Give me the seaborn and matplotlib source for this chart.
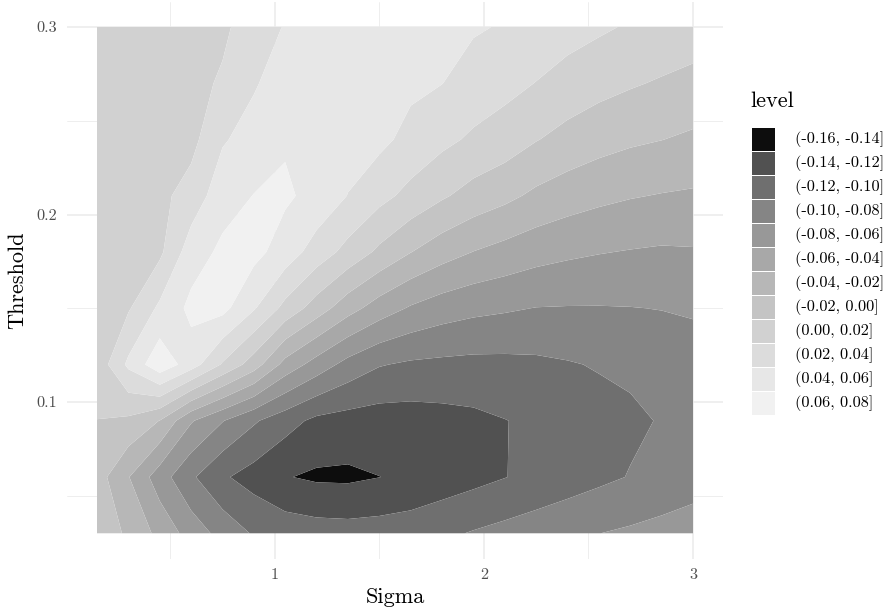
import numpy as np
import pandas as pd
import matplotlib
matplotlib.use("Agg")
import matplotlib.pyplot as plt
import seaborn as sns
from matplotlib.patches import Rectangle

# ---- data ----
sigma = [0.15, 0.30, 0.45, 0.60, 0.75, 0.90, 1.05, 1.20, 1.35, 1.50,
         1.65, 1.80, 1.95, 2.10, 2.25, 2.40, 2.55, 2.70, 2.85, 3.00]
threshold = [0.03, 0.06, 0.09, 0.12, 0.15, 0.18, 0.21, 0.24, 0.27, 0.30]

z_t03 = [-0.006, -0.0236, -0.0458, -0.0685, -0.087, -0.102, -0.108, -0.111, -0.112, -0.111,
         -0.109, -0.104, -0.0985, -0.0939, -0.0893, -0.0847, -0.0802, -0.077, -0.0735, -0.070]
z_t06 = [-0.011, -0.039, -0.0705, -0.0968, -0.1174, -0.128, -0.139, -0.143, -0.1435, -0.1402,
         -0.136, -0.131, -0.126, -0.1205, -0.115, -0.1097, -0.1044, -0.0991, -0.094, -0.089]
z_t09 = [-0.0002, -0.004, -0.0205, -0.058, -0.079, -0.0975, -0.112, -0.1248, -0.128, -0.1295,
         -0.129, -0.127, -0.1245, -0.1205, -0.1165, -0.112, -0.1077, -0.1034, -0.0988, -0.094]
z_t12 = [0.007, 0.044, 0.074, 0.050, 0.018, -0.010, -0.047, -0.0684, -0.0869, -0.0987,
         -0.103, -0.1045, -0.1055, -0.1052, -0.104, -0.1015, -0.0985, -0.0965, -0.092, -0.087]
z_t15 = [0.012, 0.018, 0.044, 0.065, 0.066, 0.042, 0.014, -0.0095, -0.0321, -0.0495,
         -0.0622, -0.0702, -0.075, -0.0777, -0.0805, -0.081, -0.081, -0.0805, -0.0795, -0.0783]
z_t18 = [0.013, 0.0145, 0.016, 0.0507, 0.064, 0.066, 0.051, 0.0311, 0.0136, -0.0041,
         -0.0195, -0.0316, -0.0404, -0.0467, -0.0525, -0.0564, -0.0591, -0.061, -0.0625, -0.0617]
z_t21 = [0.014, 0.0145, 0.015, 0.028, 0.052, 0.0605, 0.063, 0.054, 0.0395, 0.0262,
         0.0141, 0.0026, -0.0075, -0.015, -0.0241, -0.0304, -0.0352, -0.0387, -0.041, -0.0426]
z_t24 = [0.014, 0.0145, 0.015, 0.014, 0.038, 0.048, 0.058, 0.053, 0.048, 0.045,
         0.034, 0.0249, 0.0168, 0.0105, 0.0009, -0.0065, -0.0124, -0.0168, -0.0197, -0.0232]
z_t27 = [0.014, 0.0145, 0.015, 0.015, 0.022, 0.038, 0.050, 0.049, 0.049, 0.048,
         0.044, 0.0403, 0.0318, 0.0261, 0.0195, 0.0121, 0.0065, 0.002, -0.002, -0.006]
z_t30 = [0.014, 0.0145, 0.015, 0.016, 0.017, 0.028, 0.0415, 0.045, 0.047, 0.048,
         0.047, 0.045, 0.042, 0.0385, 0.0335, 0.028, 0.023, 0.018, 0.0145, 0.011]

level_breaks = [-0.16, -0.14, -0.12, -0.10, -0.08, -0.06, -0.04, -0.02,
                0.00, 0.02, 0.04, 0.06, 0.08]
level_labels = ["(-0.16, -0.14]", "(-0.14, -0.12]", "(-0.12, -0.10]", "(-0.10, -0.08]",
                "(-0.08, -0.06]", "(-0.06, -0.04]", "(-0.04, -0.02]", "(-0.02, 0.00]",
                "(0.00, 0.02]", "(0.02, 0.04]", "(0.04, 0.06]", "(0.06, 0.08]"]
x_ticks = [1, 2, 3]
y_ticks = [0.1, 0.2, 0.3]
y_tick_labels = ["0.1", "0.2", "0.3"]

grid = pd.DataFrame([z_t03, z_t06, z_t09, z_t12, z_t15, z_t18, z_t21, z_t24, z_t27, z_t30],
                    index=threshold, columns=sigma)

# ---- style ----
sns.set_theme(style="white")
plt.rcParams['font.family'] = ['cmr10', 'DejaVu Serif']
plt.rcParams['mathtext.fontset'] = 'cm'
plt.rcParams['axes.formatter.use_mathtext'] = True
plt.rcParams['axes.unicode_minus'] = False

fills = ['#0d0d0d', '#515151', '#6f6f6f', '#858585', '#989898', '#a8a8a8',
         '#b7b7b7', '#c4c4c4', '#d1d1d1', '#dcdcdc', '#e7e7e7', '#f1f1f1']

W, H = 888, 610
fig = plt.figure(figsize=(W / 100, H / 100), dpi=100)
ax = fig.add_axes([67.2 / W, 1 - 558.6 / H, (722.8 - 67.2) / W, (558.6 - 1.7) / H])

ax.contourf(grid.columns.values, grid.index.values, grid.values,
            levels=level_breaks, colors=fills, antialiased=True)

ax.set_xlim(0.0075, 3.1425)
ax.set_ylim(0.0165, 0.3135)
ax.set_xticks(x_ticks)
ax.set_xticklabels([str(v) for v in x_ticks])
ax.set_yticks(y_ticks)
ax.set_yticklabels(y_tick_labels)
ax.set_xticks([0.5, 1.5, 2.5], minor=True)
ax.set_yticks([0.05, 0.15, 0.25], minor=True)
ax.set_axisbelow(True)
ax.grid(which='major', color='#ebebeb', linewidth=1.1)
ax.grid(which='minor', color='#ebebeb', linewidth=0.6)
for sp in ax.spines.values():
    sp.set_visible(False)
ax.tick_params(which='both', length=0, labelsize=11.7, labelcolor='#4d4d4d')
ax.tick_params(axis='x', pad=7)
ax.tick_params(axis='y', pad=7)

ax.set_xlabel('Sigma', fontsize=16, color='black', labelpad=4)
ax.set_ylabel('Threshold', fontsize=16, color='black', labelpad=7)

# ---- legend (drawn as keys + labels in figure pixels) ----
fig.text(750 / W, 1 - 101 / H, 'level', fontsize=16, va='center', ha='left', color='black')
key_x, key_top, key_size, pitch = 752, 128, 23, 24
for i, (c, lab) in enumerate(zip(fills, level_labels)):
    top = key_top + pitch * i
    fig.add_artist(Rectangle((key_x / W, 1 - (top + key_size) / H), key_size / W, key_size / H,
                             transform=fig.transFigure, facecolor=c, edgecolor='none'))
    fig.text(795 / W, 1 - (top + key_size / 2) / H, lab, fontsize=11.7,
             va='center', ha='left', color='black')

fig.savefig('out.png', dpi=100)
